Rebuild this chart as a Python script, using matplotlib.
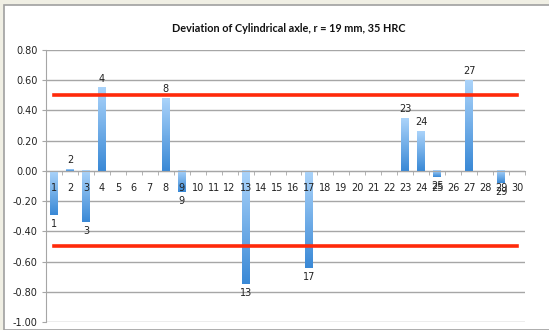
import matplotlib
matplotlib.use('Agg')
import matplotlib.pyplot as plt
import matplotlib.patches as patches
from matplotlib.colors import LinearSegmentedColormap
import numpy as np

# measured deviation per sample point (mm)
positions = list(range(1, 31))
deviation = [-0.29, 0.01, -0.34, 0.55, 0.0, 0.0, 0.0, 0.48, -0.14, 0.0,
             0.0, 0.0, -0.75, 0.0, 0.0, 0.0, -0.64, 0.0, 0.0, 0.0,
             0.0, 0.0, 0.35, 0.26, -0.04, 0.0, 0.60, 0.0, -0.08, 0.0]
labelled = [1, 2, 3, 4, 8, 9, 13, 17, 23, 24, 25, 27, 29]
upper_limit = [0.5] * 30
lower_limit = [-0.5] * 30
yticks = [0.80, 0.60, 0.40, 0.20, 0.00, -0.20, -0.40, -0.60, -0.80, -1.00]
title = "Deviation of Cylindrical axle, r = 19 mm, 35 HRC"

W, H = 549, 330
fig = plt.figure(figsize=(W / 100, H / 100), dpi=100)
fig.patch.set_facecolor('#f0efe4')
# white chart area with a thin grey frame
fig.patches.append(patches.Rectangle((4 / W, 0), 1, 1 - 5 / H, transform=fig.transFigure,
                                     facecolor='white', edgecolor='#a0a0a0', linewidth=1.2,
                                     zorder=-10))

ax = fig.add_axes([46 / W, (H - 322) / H, (525 - 46) / W, (322 - 50) / H])
ax.set_facecolor('none')

# gridlines by hand so the axis (and its tick labels) can sit above the bars
for t in yticks:
    ax.axhline(t, color='#a6a6a6', linewidth=1.0, zorder=1)

cmap = LinearSegmentedColormap.from_list('bar', ['#3a89d6', '#aad3fa'])
grad = np.linspace(0, 1, 64).reshape(-1, 1)
bw = 0.5
for x, v in zip(positions, deviation):
    if v == 0:
        continue
    lo, hi = min(0, v), max(0, v)
    ax.imshow(grad, cmap=cmap, origin='lower', aspect='auto', zorder=2,
              extent=[x - bw / 2, x + bw / 2, lo, hi], interpolation='bilinear')

for x in labelled:
    v = deviation[x - 1]
    if v >= 0:
        ax.annotate(str(x), (x, v), xytext=(0, 3), textcoords='offset points',
                    ha='center', va='bottom', fontsize=7, color='#222222', zorder=5)
    else:
        ax.annotate(str(x), (x, v), xytext=(0, -3), textcoords='offset points',
                    ha='center', va='top', fontsize=7, color='#222222', zorder=5)

ax.plot(positions, upper_limit, color='#ff2a0a', linewidth=2.6, zorder=4)
ax.plot(positions, lower_limit, color='#ff2a0a', linewidth=2.6, zorder=4)

ax.set_xlim(0.5, 30.5)
ax.set_ylim(-1.0, 0.8)
ax.set_yticks(yticks)
ax.set_yticklabels(['%.2f' % t for t in yticks])
ax.set_axisbelow(False)

ax.set_xticks(positions)
ax.set_xticklabels([str(p) for p in positions])
ax.set_xticks(np.arange(0.5, 31, 1), minor=True)
ax.tick_params(axis='x', which='major', length=0, pad=9, labelsize=7, labelcolor='#222222')
ax.tick_params(axis='x', which='minor', length=3, direction='out', color='#a6a6a6')
ax.tick_params(axis='y', length=3, color='#a6a6a6', pad=3, labelsize=7, labelcolor='#222222')

for s in ['top', 'right']:
    ax.spines[s].set_visible(False)
ax.spines['bottom'].set_position(('data', 0))
ax.spines['bottom'].set_color('#a6a6a6')
ax.spines['left'].set_color('#a6a6a6')

fig.text(289 / W, 1 - 28 / H, title, ha='center', va='center',
         fontsize=7.8, fontweight='bold', family='Lato', color='#111111')

fig.savefig('out.png', dpi=100)
